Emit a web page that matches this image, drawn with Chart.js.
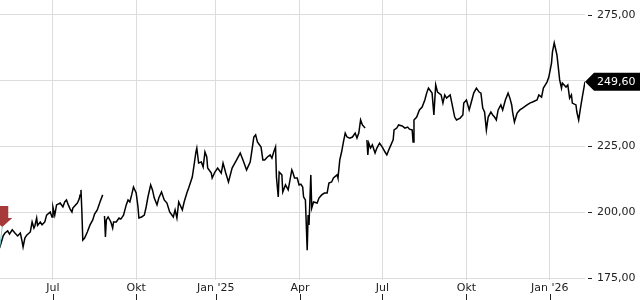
<!DOCTYPE html>
<html>
<head>
<meta charset="utf-8">
<script src="https://cdn.jsdelivr.net/npm/chart.js@4.4.1/dist/chart.umd.min.js"></script>
<style>
  html, body { margin: 0; padding: 0; background: #fff; }
  #wrap { width: 640px; height: 300px; }
</style>
</head>
<body>
<div id="wrap"><canvas id="chart" width="640" height="300"></canvas></div>
<script>
// Days counted from 1 July 2024 (day 0), prices
const days = [
  -59, -55, -53, -50, -48, -45, -42, -39, -36, -34, -33, -31,
  -29, -25, -23, -21, -20, -18, -17, -14, -12, -9, -7, -3,
  -1, 0, 2, 4, 8, 11, 13, 15, 17, 19, 21, 22,
  24, 27, 29, 30, 31, 32, 33, 35, 38, 41, 44, 46,
  49, 52, 55, 56, 57, 58, 59, 61, 64, 66, 67, 70,
  73, 75, 78, 81, 83, 85, 87, 89, 92, 94, 95, 98,
  101, 103, 105, 108, 110, 112, 115, 117, 120, 123, 126, 129,
  133, 135, 137, 139, 143, 145, 148, 150, 154, 156, 158, 159,
  161, 164, 166, 168, 170, 171, 175, 176, 179, 182, 186, 188,
  191, 194, 198, 201, 203, 207, 210, 212, 214, 218, 220, 222,
  224, 226, 230, 232, 234, 237, 240, 242, 244, 246, 247, 249,
  250, 253, 254, 257, 260, 262, 264, 265, 267, 270, 272, 274,
  276, 277, 279, 281, 282, 283, 285, 286, 288, 292, 294, 297,
  300, 303, 305, 308, 310, 314, 315, 317, 319, 321, 323, 325,
  328, 331, 334, 336, 338, 340, 342, 345, 346, 347, 348, 349,
  351, 353, 356, 358, 361, 364, 367, 369, 372, 376, 377, 380,
  382, 386, 389, 392, 394, 397, 398, 399, 402, 405, 408, 411,
  413, 415, 419, 421, 423, 425, 429, 431, 433, 435, 439, 442,
  444, 446, 450, 453, 454, 457, 460, 463, 465, 468, 471, 473,
  475, 477, 479, 481, 484, 486, 488, 490, 492, 495, 497, 500,
  503, 505, 507, 508, 510, 513, 516, 519, 524, 527, 530, 535,
  537, 540, 542, 546, 548, 551, 552, 554, 557, 558, 560, 562,
  563, 567, 569, 571, 573, 574, 578, 579, 581, 583, 585, 588
];
const prices = [
  186.4, 191.0, 192.1, 192.9, 191.7, 193.3, 192.1, 191.0, 192.1, 188.7, 186.8, 190.2,
  191.3, 192.5, 196.3, 194.0, 194.8, 197.8, 195.0, 196.3, 195.2, 196.3, 198.9, 200.1,
  198.2, 202.0, 198.9, 202.8, 203.5, 202.0, 203.9, 204.7, 202.8, 201.2, 200.1, 201.6,
  202.4, 203.5, 205.0, 206.6, 208.5, 200.1, 189.4, 190.2, 192.5, 195.2, 197.1, 199.3,
  200.9, 203.9, 206.6, null, 198.6, 190.6, 197.1, 198.2, 196.3, 194.0, 196.3, 196.3,
  197.8, 197.4, 198.9, 202.8, 204.7, 203.9, 206.6, 209.6, 207.3, 202.0, 197.8, 198.2,
  198.9, 202.0, 205.8, 210.4, 208.5, 205.4, 202.8, 205.4, 207.7, 204.7, 203.5, 200.1,
  198.2, 200.9, 197.8, 203.9, 200.9, 203.9, 207.3, 209.2, 213.4, 218.0, 222.9, 224.4,
  218.7, 219.1, 217.2, 222.9, 221.0, 216.8, 214.9, 213.0, 215.3, 216.8, 214.9, 218.7,
  214.9, 211.5, 216.8, 218.7, 219.9, 222.5, 219.9, 218.0, 216.1, 219.1, 223.7, 228.6,
  229.4, 226.7, 224.8, 219.9, 219.9, 221.0, 221.8, 220.6, 222.9, 224.8, 213.4, 205.8,
  215.3, 214.2, 207.7, 210.4, 208.5, 212.3, 216.1, 215.3, 213.0, 213.0, 210.4, 210.7,
  209.6, 205.8, 204.7, 185.6, 198.9, 195.2, 214.2, 201.6, 203.9, 203.5, 205.4, 206.6,
  207.3, 207.3, 211.1, 211.5, 213.0, 214.2, 213.0, 219.9, 222.9, 226.7, 230.1, 228.6,
  228.2, 228.6, 230.1, 228.2, 230.1, 235.1, 233.2, 232.0, null, 227.5, 221.8, 226.3,
  224.4, 225.6, 222.5, 224.4, 226.3, 224.8, 222.9, 221.8, 224.4, 227.5, 231.3, 232.0,
  233.2, 232.8, 232.0, 232.4, 231.6, 231.3, 226.7, 235.1, 236.2, 238.9, 240.0, 242.7,
  245.3, 247.2, 245.3, 237.0, 248.4, 245.7, 244.6, 241.5, 244.6, 243.4, 244.6, 239.6,
  236.2, 235.1, 235.8, 237.0, 241.5, 242.7, 238.9, 242.7, 245.3, 247.2, 245.7, 245.3,
  239.6, 238.1, 231.3, 236.2, 238.1, 237.0, 236.2, 235.1, 238.9, 240.8, 238.9, 242.7,
  245.3, 243.4, 240.8, 238.1, 234.3, 237.7, 238.9, 239.6, 240.8, 241.5, 241.9, 242.7,
  244.6, 243.8, 247.2, 249.5, 251.4, 256.7, 260.9, 264.4, 259.8, 256.7, 250.3, 247.2,
  249.1, 247.6, 248.4, 243.4, 244.6, 241.5, 240.8, 238.1, 235.1, 239.6, 243.8, 249.6
];

// Month ticks on the time axis
const tickDays = [0, 92, 180, 273, 364, 457, 549];
const tickLabels = ['Jul', 'Okt', "Jan '25", 'Apr', 'Jul', 'Okt', "Jan '26"];
// Price ticks on the right axis
const yTicks = [175, 200, 225, 250, 275];

// Event marker (red arrow) near the start
const eventDay = -56;
const eventPrice = 194.4;

const fmt = v => v.toFixed(2).replace('.', ',');

const points = days.map((d, i) => ({ x: d, y: prices[i] }));

// Draws tick dashes, the last price tag and the event arrow
const extras = {
  id: 'extras',
  afterDraw(chart) {
    const ctx = chart.ctx;
    const area = chart.chartArea;
    const xs = chart.scales.x;
    const ys = chart.scales.y;
    ctx.save();

    // small dashes next to the price labels
    ctx.strokeStyle = '#222';
    ctx.lineWidth = 1;
    yTicks.forEach(function(v) {
      const y = Math.round(ys.getPixelForValue(v)) + 0.5;
      ctx.beginPath();
      ctx.moveTo(area.right + 3, y);
      ctx.lineTo(area.right + 7, y);
      ctx.stroke();
    });

    // small marks under the month labels
    tickDays.forEach(function(d) {
      const x = Math.round(xs.getPixelForValue(d)) + 0.5;
      ctx.beginPath();
      ctx.moveTo(x, 294);
      ctx.lineTo(x, 300);
      ctx.stroke();
    });

    // last price tag
    const last = prices[prices.length - 1];
    const ly = ys.getPixelForValue(last);
    const lx = area.right;
    ctx.fillStyle = '#000';
    ctx.beginPath();
    ctx.moveTo(lx, ly);
    ctx.lineTo(lx + 9, ly - 9);
    ctx.lineTo(chart.width, ly - 9);
    ctx.lineTo(chart.width, ly + 9);
    ctx.lineTo(lx + 9, ly + 9);
    ctx.closePath();
    ctx.fill();
    ctx.fillStyle = '#fff';
    ctx.font = '11px "DejaVu Sans"';
    ctx.textBaseline = 'middle';
    ctx.textAlign = 'left';
    ctx.fillText(fmt(last), lx + 12, ly + 0.5);

    // event arrow with its thin connector
    const ex = xs.getPixelForValue(eventDay);
    const ey = ys.getPixelForValue(eventPrice);
    ctx.strokeStyle = '#80cccc';
    ctx.beginPath();
    ctx.moveTo(xs.getPixelForValue(days[0]), ys.getPixelForValue(prices[0]));
    ctx.lineTo(ex, ey);
    ctx.stroke();
    ctx.fillStyle = '#a63a3a';
    ctx.beginPath();
    ctx.moveTo(ex - 6, ey - 21);
    ctx.lineTo(ex + 6, ey - 21);
    ctx.lineTo(ex + 6, ey - 9);
    ctx.lineTo(ex + 10, ey - 9);
    ctx.lineTo(ex, ey);
    ctx.lineTo(ex - 10, ey - 9);
    ctx.lineTo(ex - 6, ey - 9);
    ctx.closePath();
    ctx.fill();

    ctx.restore();
  }
};

Chart.defaults.font.family = '"DejaVu Sans", sans-serif';
Chart.defaults.font.size = 11;
Chart.defaults.color = '#222';

new Chart(document.getElementById('chart'), {
  type: 'line',
  data: {
    datasets: [{
      data: points,
      borderColor: '#000',
      borderWidth: 1.5,
      pointRadius: 0,
      tension: 0,
      spanGaps: false
    }]
  },
  options: {
    responsive: false,
    animation: false,
    layout: { padding: 0 },
    plugins: {
      legend: { display: false },
      tooltip: { enabled: false }
    },
    scales: {
      x: {
        type: 'linear',
        min: -58.5,
        max: 588,
        afterBuildTicks: function(axis) {
          axis.ticks = tickDays.map(d => ({ value: d }));
        },
        afterFit: function(scale) {
          scale.height = 20;
          scale.paddingLeft = 0;
          scale.paddingRight = 0;
        },
        ticks: {
          autoSkip: false,
          maxRotation: 0,
          padding: 2,
          callback: function(value) {
            const i = tickDays.indexOf(value);
            return i >= 0 ? tickLabels[i] : '';
          }
        },
        grid: { color: '#dcdcdc', drawTicks: false },
        border: { display: false }
      },
      y: {
        position: 'right',
        min: 174.24,
        max: 280.7,
        afterBuildTicks: function(axis) {
          axis.ticks = yTicks.map(v => ({ value: v }));
        },
        afterFit: function(scale) {
          scale.width = 55;
          scale.paddingTop = 0;
          scale.paddingBottom = 0;
        },
        ticks: {
          padding: 12,
          callback: function(value) { return fmt(value); }
        },
        grid: { color: '#dcdcdc', drawTicks: false },
        border: { display: false }
      }
    }
  },
  plugins: [extras]
});
</script>
</body>
</html>
